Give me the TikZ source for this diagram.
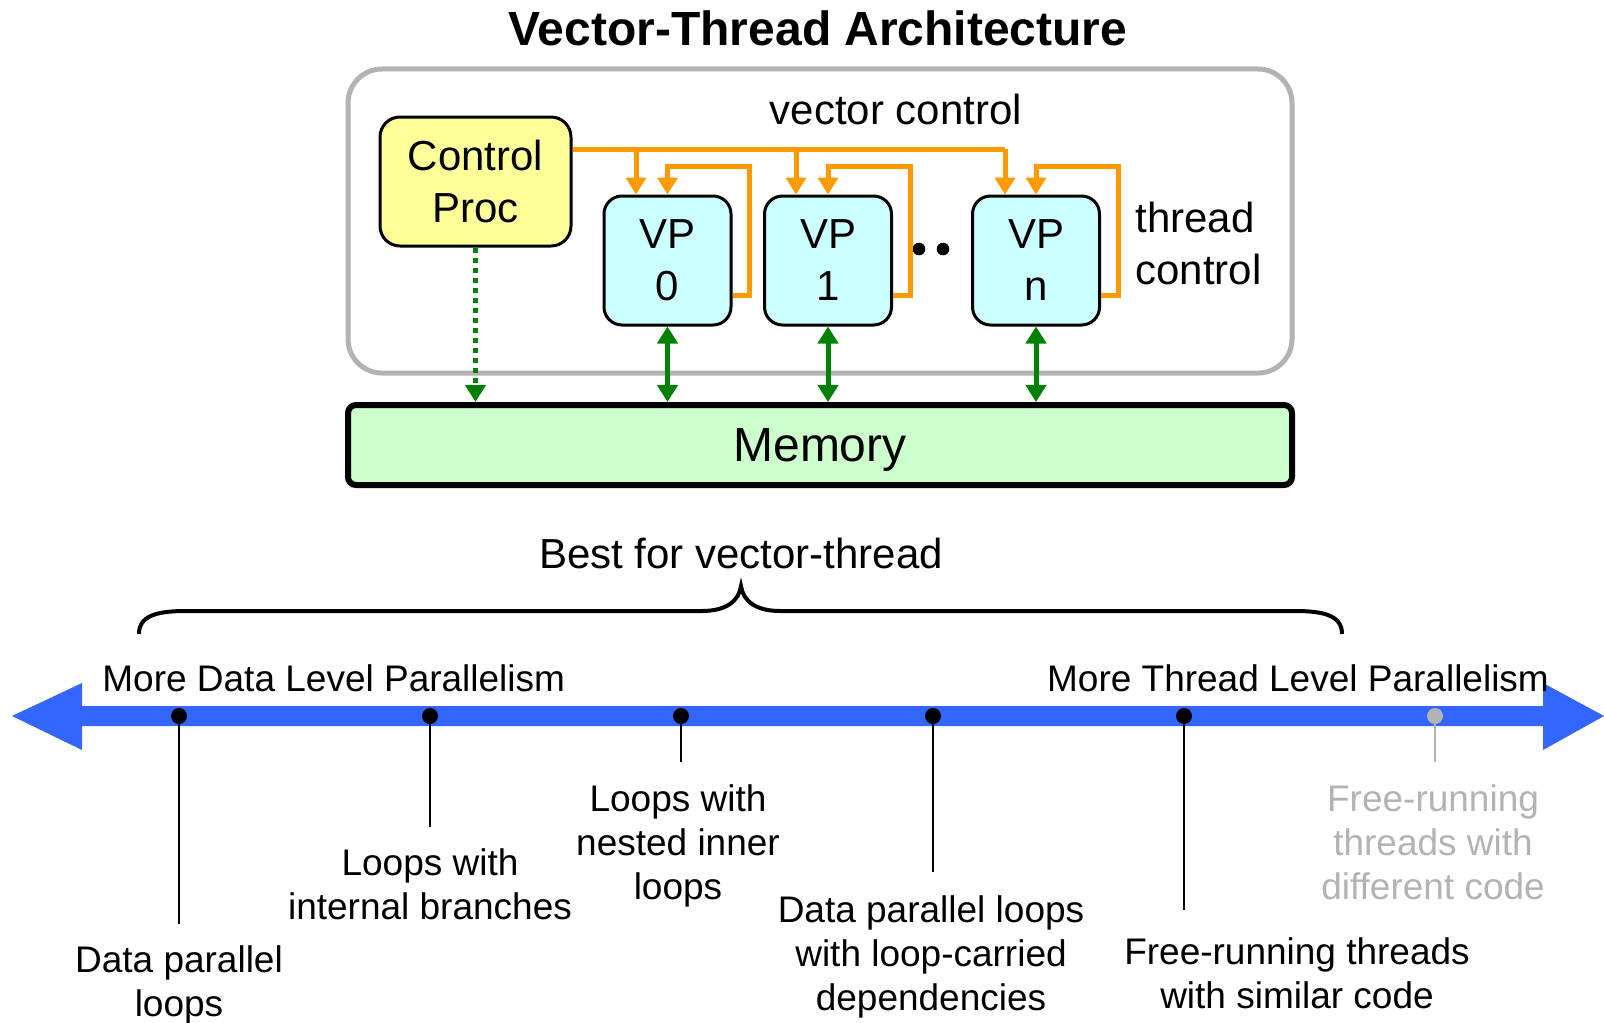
\documentclass[tikz,border=0pt]{standalone}
\usepackage{fontspec}
\setmainfont{Liberation Sans}
\usetikzlibrary{arrows.meta,calc}

\definecolor{vtorange}{HTML}{FF9900}
\definecolor{vtgreen}{HTML}{008000}
\definecolor{vtblue}{HTML}{3366FF}
\definecolor{vtyellow}{HTML}{FFFF99}
\definecolor{vtcyan}{HTML}{CCFFFF}
\definecolor{vtmint}{HTML}{CCFFCC}
\definecolor{vtgray}{HTML}{B3B3B3}

\tikzset{
  fbig/.style={font=\fontsize{21}{26}\selectfont},
  flabel/.style={font=\fontsize{18.5}{22}\selectfont},
  frame/.style={draw=vtgray, line width=2.5pt, fill=white, rounded corners=17pt,
    minimum width=472pt, minimum height=152pt, inner sep=0pt},
  cpbox/.style={draw=black, line width=1.5pt, fill=vtyellow, rounded corners=10pt,
    minimum width=95.5pt, minimum height=64.5pt, inner sep=0pt, align=center, fbig},
  vpbox/.style={draw=black, line width=1.5pt, fill=vtcyan, rounded corners=9pt,
    minimum width=63.5pt, minimum height=64.5pt, inner sep=0pt, align=center, fbig},
  membox/.style={draw=black, line width=3pt, fill=vtmint, rounded corners=4pt,
    minimum width=472pt, minimum height=40pt, inner sep=0pt, text depth=0pt,
    font=\fontsize{24}{28}\selectfont},
  vtctl/.style={draw=vtorange, line width=2.5pt, -{Triangle[width=10pt,length=8.5pt]}},
  vtbus/.style={draw=vtorange, line width=2.5pt},
  memlink/.style={draw=vtgreen, line width=2.5pt,
    {Triangle[width=10pt,length=8.5pt]}-{Triangle[width=10pt,length=8.5pt]}},
  memdot/.style={draw=vtgreen, line width=2.5pt, dash pattern=on 2.5pt off 2.5pt,
    -{Triangle[width=10pt,length=8.5pt]}},
  elldot/.style={circle, fill=black, minimum size=6.3pt, inner sep=0pt},
  tickdot/.style={circle, fill=black, minimum size=8pt, inner sep=0pt},
  tickline/.style={draw=black, line width=1.3pt},
  caselabel/.style={flabel, align=center, anchor=north, inner sep=0pt},
}

\begin{document}
\begin{tikzpicture}[x=0.5pt,y=-0.5pt]
\useasboundingbox (0,0) rectangle (1604,1022);

% ---------- architecture block ----------
\node[font=\bfseries\fontsize{24}{28}\selectfont] (title) at (818,28) {Vector-Thread Architecture};

\node[frame] (frame) at (820,221) {};
\node[membox] (mem) at (820,445) {Memory};

\node[cpbox] (cp) at (475.5,181.5) {Control\\Proc};
\node[vpbox] (vp0) at (667.5,260.5) {VP\\0};
\node[vpbox] (vp1) at (828,260.5) {VP\\1};
\node[vpbox] (vpn) at (1036,260.5) {VP\\n};

\node[fbig] (vclabel) at (896,109) {vector control};
\node[fbig, anchor=west, align=left, inner sep=0pt] (tclabel) at (1135,243.5) {thread\\control};

% the ellipsis between VP 1 and VP n
\node[elldot] (dotA) at (919,249) {};
\node[elldot] (dotB) at (943,249) {};

% vector control bus
\coordinate (bus) at (1005,149);
\coordinate (in0) at ($(vp0.north)+(-31.5,0)$);
\coordinate (in1) at ($(vp1.north)+(-32,0)$);
\coordinate (inn) at ($(vpn.north)+(-31,0)$);
\draw[vtbus] (cp.east |- bus) -- (bus);
\draw[vtctl] (bus) -- (inn);
\draw[vtctl] (in0 |- bus) -- (in0);
\draw[vtctl] (in1 |- bus) -- (in1);

% thread control loops
\foreach \v in {vp0,vp1,vpn}{
  \draw[vtctl] ($(\v.south east)+(0,-31)$) -- ++(17,0) -- ++(0,-129) -| (\v.north);
}

% memory links
\draw[memdot] (cp.south) -- (cp.south |- mem.north);
\foreach \v in {vp0,vp1,vpn}{
  \draw[memlink] (\v.south) -- (\v.south |- mem.north);
}

% ---------- parallelism spectrum ----------
\node[font=\fontsize{21}{26}\selectfont] (best) at (741,553) {Best for vector-thread};
\draw[line width=2pt] (139,634) .. controls (139,616) and (156,611) .. (186,611)
  -- (702,611) .. controls (726,611) and (739,601) .. (741,586)
  .. controls (743,601) and (756,611) .. (780,611)
  -- (1295,611) .. controls (1325,611) and (1342,616) .. (1342,634);

\fill[vtblue] (12,716) -- (82,683) -- (82,706) -- (1543,706) -- (1543,683)
  -- (1604,716) -- (1543,750) -- (1543,726) -- (82,726) -- (82,750) -- cycle;

\node[flabel, anchor=west, inner sep=0pt] (dlp) at (102,678) {More Data Level Parallelism};
\node[flabel, inner sep=0pt] (tlp) at (1298,678) {More Thread Level Parallelism};

\coordinate (e1) at (179,924);
\coordinate (e2) at (430,827);
\coordinate (e3) at (681,762);
\coordinate (e4) at (933,872);
\coordinate (e5) at (1184,910);
\coordinate (e6) at (1435,762);

\draw[tickline] (179,716) -- (e1);
\draw[tickline] (430,716) -- (e2);
\draw[tickline] (681,716) -- (e3);
\draw[tickline] (933,716) -- (e4);
\draw[tickline] (1184,716) -- (e5);
\draw[tickline, draw=vtgray] (1435,716) -- (e6);

\node[tickdot] (t1) at (179,716) {};
\node[tickdot] (t2) at (430,716) {};
\node[tickdot] (t3) at (681,716) {};
\node[tickdot] (t4) at (933,716) {};
\node[tickdot] (t5) at (1184,716) {};
\node[tickdot, fill=vtgray] (t6) at (1435,716) {};

\node[caselabel] (c1) at (179,945) {Data parallel\\loops};
\node[caselabel] (c2) at (430,848.5) {Loops with\\internal branches};
\node[caselabel] (c3) at (678,784.5) {Loops with\\nested inner\\loops};
\node[caselabel] (c4) at (931,895.5) {Data parallel loops\\with loop-carried\\dependencies};
\node[caselabel] (c5) at (1297,937) {Free-running threads\\with similar code};
\node[caselabel, text=vtgray] (c6) at (1433,784.5) {Free-running\\threads with\\different code};
\end{tikzpicture}
\end{document}
